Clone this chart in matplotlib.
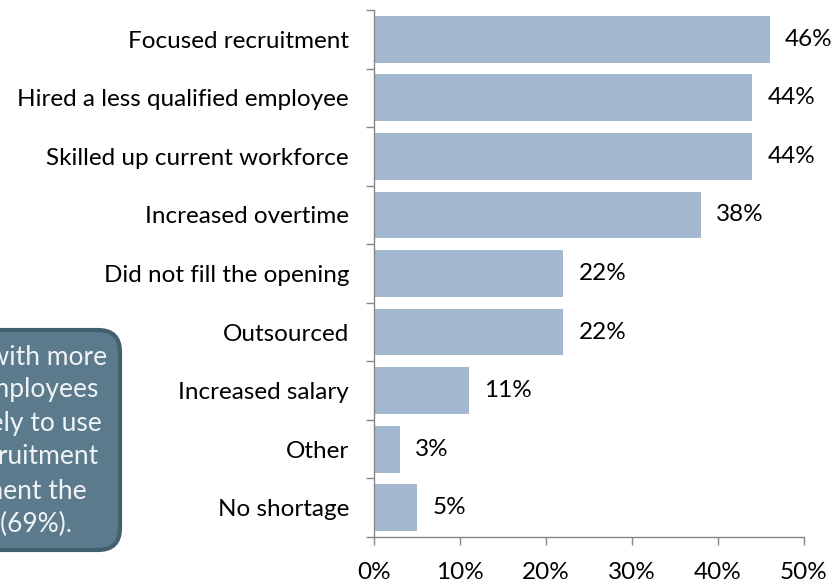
import numpy as np
import matplotlib
matplotlib.use("Agg")
import matplotlib.pyplot as plt
from matplotlib.patches import FancyBboxPatch
from matplotlib.transforms import IdentityTransform

plt.rcParams['font.family'] = ['Lato', 'DejaVu Sans']

categories = ["Focused recruitment", "Hired a less qualified employee",
              "Skilled up current workforce", "Increased overtime",
              "Did not fill the opening", "Outsourced", "Increased salary",
              "Other", "No shortage"]
values = [46, 44, 44, 38, 22, 22, 11, 3, 5]
xticks = [0, 10, 20, 30, 40, 50]
xtick_labels = ["0%", "10%", "20%", "30%", "40%", "50%"]

# callout text, only the right part shows on the canvas
note_lines = ["Companies with more", "than 100 employees", "were more likely to use",
              "focused recruitment", "to supplement the", "workforce (69%)."]
note_right = [107, 98, 102, 98, 87, 72]   # px where each line ends
note_y = [357, 390, 423, 457, 491, 524]   # px from top

FS = 17.5
W, H = 838, 583
fig = plt.figure(figsize=(W/100, H/100), dpi=100)
ax = fig.add_axes([374/W, 1-537/H, (804-374)/W, (537-10)/H])

pos = np.arange(len(categories))
ax.barh(pos, values, height=0.8, color="#A3B8CF")
for p, v in zip(pos, values):
    ax.annotate(f"{v}%", (v, p), xytext=(11, 0), textcoords="offset points",
                va="center", ha="left", fontsize=FS, color="#000000")

ax.set_xlim(0, 50)
ax.set_ylim(len(categories)-0.5, -0.5)
ax.set_xticks(xticks)
ax.set_xticklabels(xtick_labels, fontsize=FS)
ax.set_yticks(pos)
ax.set_yticklabels(categories, fontsize=FS)
ax.set_yticks(np.arange(len(categories)+1)-0.5, minor=True)
ax.tick_params(axis="y", which="major", length=0, pad=18)
ax.tick_params(axis="y", which="minor", length=6, color="#878787", width=1)
ax.tick_params(axis="x", length=6, color="#878787", width=1, pad=12)

for s in ["top", "right"]:
    ax.spines[s].set_visible(False)
for s in ["left", "bottom"]:
    ax.spines[s].set_color("#878787")
    ax.spines[s].set_linewidth(1)

# rounded callout box on the left
box = FancyBboxPatch((-80, H-550), 200, 220, boxstyle="round,pad=0,rounding_size=22",
                     transform=IdentityTransform(), facecolor="#5B7A8C",
                     edgecolor="#43606F", linewidth=3)
fig.patches.append(box)
for line, xr, yy in zip(note_lines, note_right, note_y):
    fig.text(xr/W, 1-yy/H, line, ha="right", va="center", fontsize=19, color="#F0F3F5")

fig.savefig("out.png", dpi=100)
